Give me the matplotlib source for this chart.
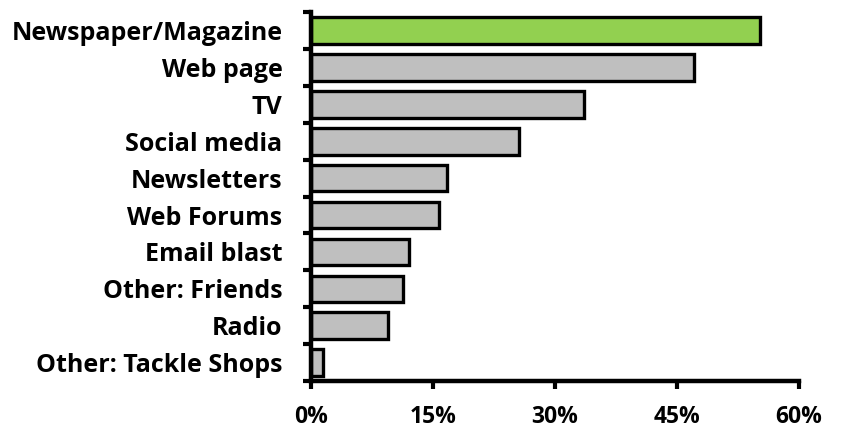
import matplotlib
matplotlib.use("Agg")
import matplotlib.pyplot as plt
from matplotlib.ticker import FixedLocator, FuncFormatter

categories = ["Newspaper/Magazine", "Web page", "TV", "Social media", "Newsletters",
              "Web Forums", "Email blast", "Other: Friends", "Radio", "Other: Tackle Shops"]
values = [55.2, 47.1, 33.5, 25.5, 16.7, 15.7, 12.1, 11.3, 9.5, 1.5]
colors = ["#92D050"] + ["#BFBFBF"] * 9
x_ticks = [0, 15, 30, 45, 60]

plt.rcParams["font.family"] = ["Open Sans", "DejaVu Sans"]

fig = plt.figure(figsize=(8.43, 4.32), dpi=100)
ax = fig.add_axes([0.369, 0.118, 0.579, 0.854])

n = len(categories)
ypos = list(range(n))
ax.barh(ypos, values, height=0.72, color=colors, edgecolor="black", linewidth=2.4, zorder=2)

ax.set_xlim(0, 60)
ax.set_ylim(n - 0.5, -0.5)

ax.set_xticks(x_ticks)
ax.xaxis.set_major_formatter(FuncFormatter(lambda v, p: f"{v:.0f}%"))

ax.set_yticks(ypos)
ax.set_yticklabels(categories)
ax.yaxis.set_minor_locator(FixedLocator([i - 0.5 for i in range(n + 1)]))

ax.tick_params(axis="y", which="major", length=0, pad=20.5, labelsize=18)
ax.tick_params(axis="y", which="minor", length=6, width=3, direction="out")
ax.tick_params(axis="x", which="major", length=6, width=3, direction="out",
               pad=11, labelsize=16.5)
for lab in ax.get_xticklabels() + ax.get_yticklabels():
    lab.set_fontweight("bold")

for side in ("top", "right"):
    ax.spines[side].set_visible(False)
for side in ("left", "bottom"):
    ax.spines[side].set_linewidth(3.2)

fig.savefig("out.png", dpi=100)
